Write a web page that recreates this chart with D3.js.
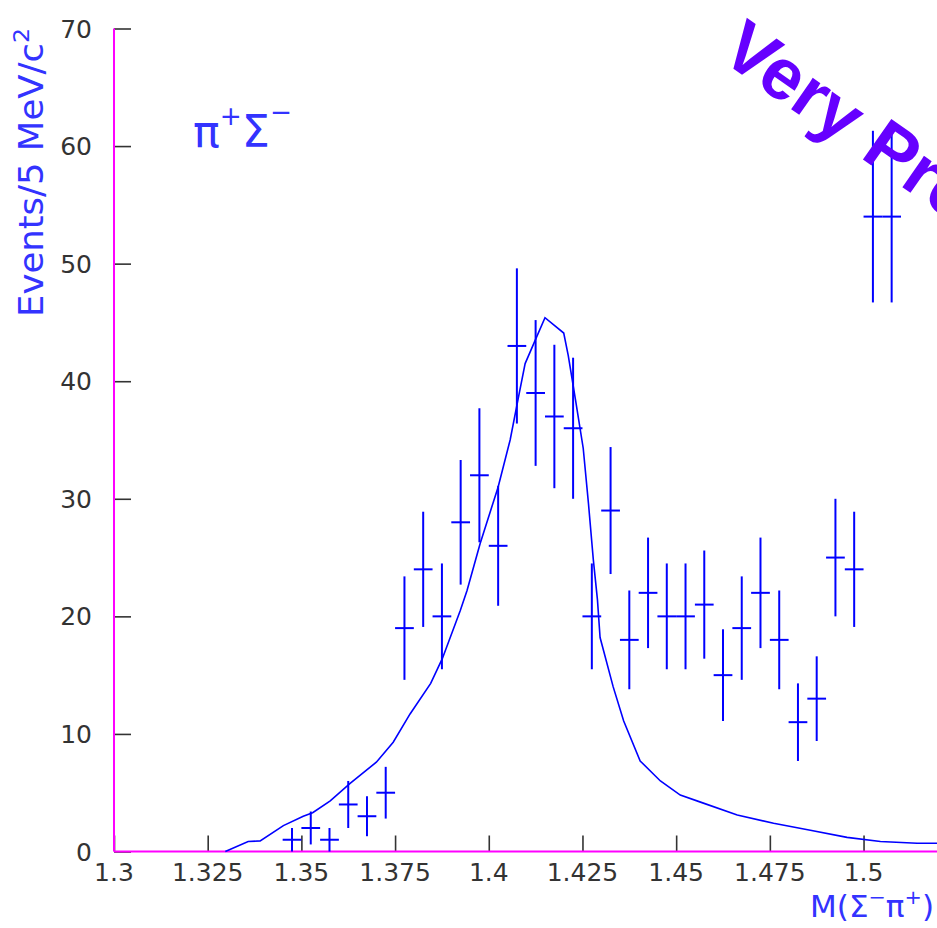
<!DOCTYPE html>
<html>
<head>
<meta charset="utf-8">
<script src="https://cdn.jsdelivr.net/npm/d3@7"></script>
<style>
  html, body { margin: 0; padding: 0; background: #fff; overflow: hidden; }
  svg { display: block; }
</style>
</head>
<body>
<svg id="chart" width="937" height="928"></svg>
<script>
// ---- data ----
const binCenters = [1.3475,1.3525,1.3575,1.3625,1.3675,1.3725,1.3775,1.3825,1.3875,1.3925,1.3975,1.4025,1.4075,1.4125,1.4175,1.4225,1.4275,1.4325,1.4375,1.4425,1.4475,1.4525,1.4575,1.4625,1.4675,1.4725,1.4775,1.4825,1.4875,1.4925,1.4975,1.5025,1.5075];
const counts = [1,2,1,4,3,5,19,24,20,28,32,26,43,39,37,36,20,29,18,22,20,20,21,15,19,22,18,11,13,25,24,54,54];
const errors = [1,1.4,1,2,1.7,2.2,4.4,4.9,4.5,5.3,5.7,5.1,6.6,6.2,6.1,6,4.5,5.4,4.2,4.7,4.5,4.5,4.6,3.9,4.4,4.7,4.2,3.3,3.6,5,4.9,7.3,7.3];
const binHalfWidth = 0.0025;

const curveX = [1.3297,1.3358,1.3390,1.3452,1.3505,1.3530,1.3577,1.3630,1.3700,1.3745,1.3790,1.3845,1.3876,1.3924,1.3942,1.3977,1.4025,1.4057,1.4079,1.4097,1.4124,1.4150,1.4200,1.4212,1.4231,1.4252,1.4266,1.4279,1.4290,1.4297,1.4332,1.4360,1.4404,1.4458,1.4511,1.4565,1.4663,1.4760,1.4858,1.4956,1.5045,1.5143,1.5200];
const curveY = [0,0.85,0.9,2.2,3.0,3.3,4.3,5.8,7.6,9.3,11.7,14.3,16.4,20.5,22.2,26.2,31.0,35.0,38.6,41.5,43.5,45.4,44.1,42.2,38.5,34.3,29.6,24.8,21.4,18.2,14.0,11.1,7.7,6.0,4.8,4.2,3.1,2.4,1.8,1.2,0.85,0.7,0.7];

const xTicks = [1.3,1.325,1.35,1.375,1.4,1.425,1.45,1.475,1.5];
const xTickLabels = ["1.3","1.325","1.35","1.375","1.4","1.425","1.45","1.475","1.5"];
const yTicks = [0,10,20,30,40,50,60,70];

// ---- layout ----
const svg = d3.select("#chart");
const x = d3.scaleLinear().domain([1.3, 1.52]).range([114, 938.5]);
const y = d3.scaleLinear().domain([0, 70]).range([851.5, 28.5]);

const BLUE = "#0000ff";
const TXT_BLUE = "#3333ff";
const AXIS = "#ff00ff";
const TICK = "#333";

// x-axis ticks (inward, pointing up) and labels
const xAxis = d3.axisTop(x).tickValues(xTicks).tickSize(16).tickSizeOuter(0).tickFormat("");
const gx = svg.append("g").attr("transform", `translate(0,${y(0)})`).call(xAxis);
gx.select(".domain").remove();
gx.selectAll(".tick line").attr("stroke", TICK).attr("stroke-width", 1.6);
svg.append("g").selectAll("text").data(xTicks).join("text")
  .attr("x", d => x(d)).attr("y", 881)
  .attr("text-anchor", "middle")
  .attr("font-family", "DejaVu Sans").attr("font-size", 25).attr("fill", TICK)
  .text((d, i) => xTickLabels[i]);

// y-axis ticks (inward, pointing right) and labels
const yAxis = d3.axisRight(y).tickValues(yTicks).tickSize(17).tickSizeOuter(0).tickFormat("");
const gy = svg.append("g").attr("transform", `translate(${x(1.3)},0)`).call(yAxis);
gy.select(".domain").remove();
gy.selectAll(".tick line").attr("stroke", TICK).attr("stroke-width", 1.6);
svg.append("g").selectAll("text").data(yTicks).join("text")
  .attr("x", 92).attr("y", d => y(d))
  .attr("dy", "0.36em")
  .attr("text-anchor", "end")
  .attr("font-family", "DejaVu Sans").attr("font-size", 25).attr("fill", TICK)
  .text(d => d);

// axis lines (magenta)
svg.append("line").attr("x1", x(1.3)).attr("x2", 937).attr("y1", y(0)).attr("y2", y(0))
  .attr("stroke", AXIS).attr("stroke-width", 2);
svg.append("line").attr("x1", x(1.3)).attr("x2", x(1.3)).attr("y1", y(70)).attr("y2", y(0))
  .attr("stroke", AXIS).attr("stroke-width", 2);

// fit curve
const line = d3.line().x(d => x(d[0])).y(d => y(d[1]));
svg.append("path")
  .datum(curveX.map((cx, i) => [cx, curveY[i]]))
  .attr("d", line)
  .attr("fill", "none").attr("stroke", BLUE).attr("stroke-width", 1.6);

// data points with error bars
const pts = svg.append("g").selectAll("g").data(binCenters.map((c, i) => ({c, v: counts[i], e: errors[i]}))).join("g");
pts.append("line")
  .attr("x1", d => x(d.c)).attr("x2", d => x(d.c))
  .attr("y1", d => y(d.v + d.e)).attr("y2", d => y(Math.max(0, d.v - d.e)))
  .attr("stroke", BLUE).attr("stroke-width", 2);
pts.append("line")
  .attr("x1", d => x(d.c - binHalfWidth)).attr("x2", d => x(d.c + binHalfWidth))
  .attr("y1", d => y(d.v)).attr("y2", d => y(d.v))
  .attr("stroke", BLUE).attr("stroke-width", 2);

// y-axis title
svg.append("text")
  .attr("transform", "translate(43,317) rotate(-90)")
  .attr("font-family", "DejaVu Sans").attr("font-size", 33).attr("fill", TXT_BLUE)
  .attr("textLength", 289).attr("lengthAdjust", "spacingAndGlyphs")
  .html('Events/5 MeV/c<tspan font-size="22" dy="-14">2</tspan>');

// x-axis title
svg.append("text")
  .attr("x", 810).attr("y", 917)
  .attr("font-family", "DejaVu Sans").attr("font-size", 30).attr("fill", TXT_BLUE)
  .attr("textLength", 124).attr("lengthAdjust", "spacingAndGlyphs")
  .html('M(Σ<tspan font-size="20" dy="-13">−</tspan><tspan dy="13">π</tspan><tspan font-size="20" dy="-13">+</tspan><tspan dy="13">)</tspan>');

// channel label
svg.append("text")
  .attr("x", 193).attr("y", 147)
  .attr("font-family", "DejaVu Sans").attr("font-size", 44).attr("fill", TXT_BLUE)
  .attr("textLength", 99).attr("lengthAdjust", "spacingAndGlyphs")
  .html('π<tspan font-size="26" dy="-22">+</tspan><tspan dy="22">Σ</tspan><tspan font-size="26" dy="-26">−</tspan>');

// watermark
svg.append("text")
  .attr("transform", "translate(718,58) rotate(35)")
  .attr("font-family", "Liberation Sans, Arial, sans-serif").attr("font-weight", "bold")
  .attr("font-size", 72).attr("fill", "#6600ff")
  .text("Very Preliminary");
</script>
</body>
</html>
